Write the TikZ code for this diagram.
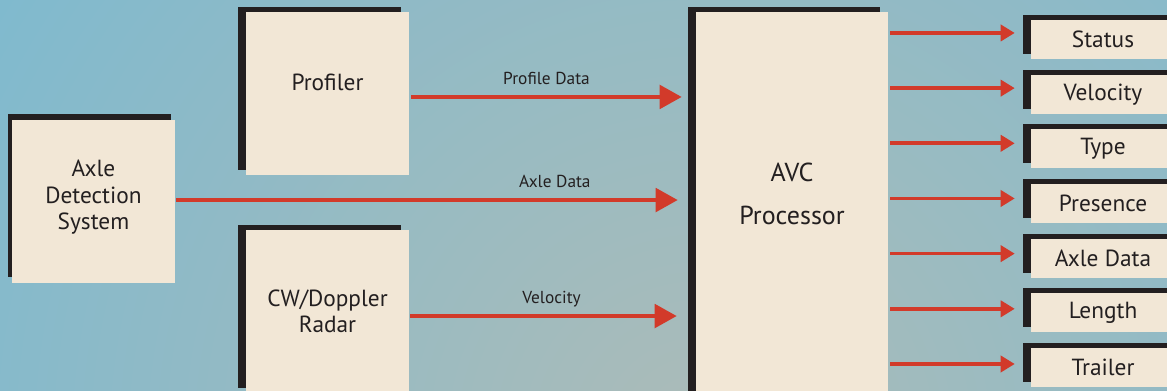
\documentclass[tikz,border=0pt]{standalone}
\usepackage{fontspec}
\setmainfont{PT Sans}
\usetikzlibrary{arrows.meta,shadows}
\definecolor{bgblue}{RGB}{124,186,208}
\definecolor{bggrey}{RGB}{172,187,184}
\definecolor{boxfill}{RGB}{242,231,214}
\definecolor{boxshadow}{RGB}{35,31,32}
\definecolor{flowred}{RGB}{210,58,42}
\tikzset{
	unit/.style={fill=boxfill, text=boxshadow, align=center, inner sep=0pt},
	backed/.style={general shadow={fill=boxshadow, shadow xshift=-6pt, shadow yshift=3.75pt}},
	bigunit/.style={unit, backed, minimum width=122.25pt, minimum height=122.25pt, font=\fontsize{17.5}{20}\selectfont},
	outunit/.style={unit, backed, minimum width=108pt, minimum height=29.25pt, font=\fontsize{17.5}{20}\selectfont},
	feed/.style={draw=flowred, line width=3pt, -{Triangle[length=16.5pt,width=17.5pt]}},
	report/.style={draw=flowred, line width=2.75pt, -{Triangle[length=10.5pt,width=12pt]}},
	feedlabel/.style={font=\fontsize{13}{15}\selectfont, text=boxshadow, inner sep=0pt, anchor=base, yshift=9.5pt}
}
\begin{document}
\begin{tikzpicture}[x=0.75pt,y=0.75pt,yscale=-1,xscale=1]
	\useasboundingbox (0,0) rectangle (1167,391);
	\clip (0,0) rectangle (1167,391);
	\shade[inner color=bggrey, outer color=bgblue] (700,440) circle (900);
	\node[unit, minimum width=122.25pt, minimum height=122.25pt, font=\fontsize{17.5}{20}\selectfont, text depth=10pt, general shadow={fill=boxshadow, shadow xshift=-3pt, shadow yshift=4.5pt}] (axle) at (93.5,201.5) {Axle\\Detection\\System};
	\node[bigunit, text depth=17pt] (prof) at (327.5,93.5) {Profiler};
	\node[bigunit] (radar) at (327.5,311.5) {CW/Doppler\\Radar};
	\node[unit, backed, minimum width=144pt, minimum height=306pt, text depth=34pt, font=\fontsize{19.5}{32.25}\selectfont] (avc) at (792,216) {AVC\\Processor};
	\draw[feed] ([xshift=1.5pt,yshift=2.6pt]prof.east) -- ([xshift=-10.5pt,yshift=2.6pt]prof.east -| avc.west) node[feedlabel, pos=0.5] {Profile Data};
	\draw[feed] ([xshift=0.75pt,yshift=-1.1pt]axle.east) -- ([xshift=-13.5pt,yshift=-1.1pt]axle.east -| avc.west) node[feedlabel, pos=0.755] {Axle Data};
	\draw[feed] ([xshift=0.75pt,yshift=3.4pt]radar.east) -- ([xshift=-14.25pt,yshift=3.4pt]radar.east -| avc.west) node[feedlabel, pos=0.53] {Velocity};
	\foreach \lbl [count=\i from 0] in {Status,Velocity,Type,Presence,Axle Data,Length,Trailer}{
		\node[outunit] (out\i) at (1103,39.5+54.67*\i) {\lbl};
		\draw[report] ([xshift=1.5pt,yshift=-4.9pt+0.375pt*\i]out\i.west -| avc.east) -- ([xshift=-12pt,yshift=-4.9pt+0.375pt*\i]out\i.west);
	}
\end{tikzpicture}
\end{document}
